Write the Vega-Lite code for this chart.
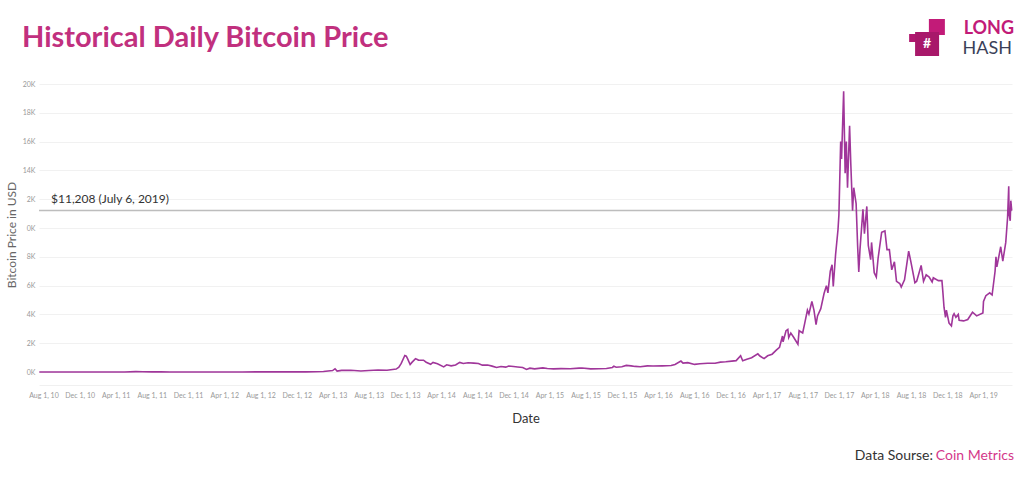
{
  "$schema": "https://vega.github.io/schema/vega-lite/v6.json",
  "autosize": "none",
  "width": 973,
  "height": 301,
  "padding": {"left": 39, "top": 84, "right": 12, "bottom": 102},
  "background": "white",
  "config": {"view": {"stroke": null}, "font": "Lato"},
  "datasets": {
    "btc": [
      {"d": "2010-07-18", "p": 0.09}, {"d": "2010-10-01", "p": 0.06}, {"d": "2010-11-06", "p": 0.39},
      {"d": "2011-01-01", "p": 0.3}, {"d": "2011-02-10", "p": 1.0}, {"d": "2011-04-01", "p": 0.78},
      {"d": "2011-05-01", "p": 3.5}, {"d": "2011-06-08", "p": 29.6}, {"d": "2011-07-01", "p": 16},
      {"d": "2011-08-01", "p": 13}, {"d": "2011-09-01", "p": 8}, {"d": "2011-10-01", "p": 5},
      {"d": "2011-11-18", "p": 2.1}, {"d": "2012-01-01", "p": 5.3}, {"d": "2012-03-01", "p": 4.9},
      {"d": "2012-06-01", "p": 5.3}, {"d": "2012-08-16", "p": 13.5}, {"d": "2012-10-01", "p": 12.4},
      {"d": "2012-12-01", "p": 12.5}, {"d": "2013-01-01", "p": 13.4}, {"d": "2013-02-01", "p": 20},
      {"d": "2013-03-01", "p": 34}, {"d": "2013-04-01", "p": 104}, {"d": "2013-04-09", "p": 230},
      {"d": "2013-04-16", "p": 68}, {"d": "2013-05-01", "p": 117}, {"d": "2013-06-01", "p": 129},
      {"d": "2013-07-05", "p": 68}, {"d": "2013-08-01", "p": 104}, {"d": "2013-09-01", "p": 140},
      {"d": "2013-10-01", "p": 125}, {"d": "2013-10-20", "p": 175}, {"d": "2013-11-01", "p": 205},
      {"d": "2013-11-10", "p": 330}, {"d": "2013-11-18", "p": 600}, {"d": "2013-11-30", "p": 1150},
      {"d": "2013-12-05", "p": 1100}, {"d": "2013-12-10", "p": 900}, {"d": "2013-12-18", "p": 520},
      {"d": "2013-12-24", "p": 670}, {"d": "2014-01-05", "p": 930}, {"d": "2014-01-15", "p": 830},
      {"d": "2014-02-01", "p": 820}, {"d": "2014-02-10", "p": 680}, {"d": "2014-02-25", "p": 540},
      {"d": "2014-03-05", "p": 670}, {"d": "2014-03-20", "p": 580}, {"d": "2014-04-10", "p": 360},
      {"d": "2014-04-20", "p": 500}, {"d": "2014-05-05", "p": 430}, {"d": "2014-05-20", "p": 490},
      {"d": "2014-06-03", "p": 670}, {"d": "2014-06-15", "p": 590}, {"d": "2014-07-01", "p": 640},
      {"d": "2014-07-20", "p": 620}, {"d": "2014-08-05", "p": 590}, {"d": "2014-08-18", "p": 480},
      {"d": "2014-09-05", "p": 490}, {"d": "2014-09-20", "p": 410}, {"d": "2014-10-05", "p": 320},
      {"d": "2014-10-20", "p": 385}, {"d": "2014-11-05", "p": 340}, {"d": "2014-11-15", "p": 420},
      {"d": "2014-12-01", "p": 380}, {"d": "2014-12-15", "p": 350}, {"d": "2015-01-01", "p": 315},
      {"d": "2015-01-14", "p": 178}, {"d": "2015-01-25", "p": 270}, {"d": "2015-02-10", "p": 220},
      {"d": "2015-03-10", "p": 290}, {"d": "2015-03-25", "p": 250}, {"d": "2015-04-15", "p": 220},
      {"d": "2015-05-10", "p": 240}, {"d": "2015-06-10", "p": 230}, {"d": "2015-07-10", "p": 270},
      {"d": "2015-07-20", "p": 280}, {"d": "2015-08-18", "p": 220}, {"d": "2015-09-15", "p": 230},
      {"d": "2015-10-10", "p": 245}, {"d": "2015-10-30", "p": 320}, {"d": "2015-11-04", "p": 400},
      {"d": "2015-11-12", "p": 330}, {"d": "2015-12-01", "p": 370}, {"d": "2015-12-16", "p": 460},
      {"d": "2016-01-01", "p": 430}, {"d": "2016-01-15", "p": 390}, {"d": "2016-02-01", "p": 370},
      {"d": "2016-02-25", "p": 425}, {"d": "2016-03-15", "p": 415}, {"d": "2016-04-15", "p": 430},
      {"d": "2016-05-15", "p": 455}, {"d": "2016-05-28", "p": 530}, {"d": "2016-06-17", "p": 760},
      {"d": "2016-06-24", "p": 620}, {"d": "2016-07-10", "p": 650}, {"d": "2016-08-02", "p": 530},
      {"d": "2016-08-20", "p": 580}, {"d": "2016-09-15", "p": 610}, {"d": "2016-10-10", "p": 615},
      {"d": "2016-10-28", "p": 690}, {"d": "2016-11-15", "p": 710}, {"d": "2016-12-05", "p": 760},
      {"d": "2016-12-20", "p": 790}, {"d": "2017-01-04", "p": 1130}, {"d": "2017-01-11", "p": 780},
      {"d": "2017-01-25", "p": 890}, {"d": "2017-02-10", "p": 990}, {"d": "2017-03-03", "p": 1260},
      {"d": "2017-03-10", "p": 1110}, {"d": "2017-03-24", "p": 930}, {"d": "2017-04-05", "p": 1130},
      {"d": "2017-04-20", "p": 1240}, {"d": "2017-05-05", "p": 1540}, {"d": "2017-05-15", "p": 1720},
      {"d": "2017-05-25", "p": 2500}, {"d": "2017-05-27", "p": 2100}, {"d": "2017-06-06", "p": 2870},
      {"d": "2017-06-12", "p": 2960}, {"d": "2017-06-15", "p": 2400}, {"d": "2017-06-22", "p": 2710},
      {"d": "2017-07-01", "p": 2430}, {"d": "2017-07-16", "p": 1930}, {"d": "2017-07-20", "p": 2870},
      {"d": "2017-08-01", "p": 2720}, {"d": "2017-08-08", "p": 3400}, {"d": "2017-08-17", "p": 4300},
      {"d": "2017-08-22", "p": 4030}, {"d": "2017-09-01", "p": 4900}, {"d": "2017-09-08", "p": 4300},
      {"d": "2017-09-15", "p": 3300}, {"d": "2017-09-20", "p": 3900}, {"d": "2017-10-01", "p": 4400},
      {"d": "2017-10-12", "p": 5450}, {"d": "2017-10-20", "p": 6000}, {"d": "2017-10-25", "p": 5500},
      {"d": "2017-11-02", "p": 7000}, {"d": "2017-11-08", "p": 7450}, {"d": "2017-11-12", "p": 5950},
      {"d": "2017-11-20", "p": 8200}, {"d": "2017-11-28", "p": 9900}, {"d": "2017-12-01", "p": 10900},
      {"d": "2017-12-07", "p": 16000}, {"d": "2017-12-10", "p": 14800}, {"d": "2017-12-17", "p": 19500},
      {"d": "2017-12-22", "p": 13800}, {"d": "2017-12-26", "p": 16000}, {"d": "2017-12-30", "p": 12800},
      {"d": "2018-01-06", "p": 17100}, {"d": "2018-01-10", "p": 14500}, {"d": "2018-01-16", "p": 11200},
      {"d": "2018-01-20", "p": 12800}, {"d": "2018-01-28", "p": 11700}, {"d": "2018-02-02", "p": 8800},
      {"d": "2018-02-06", "p": 6950}, {"d": "2018-02-10", "p": 8500}, {"d": "2018-02-20", "p": 11300},
      {"d": "2018-02-25", "p": 9600}, {"d": "2018-03-05", "p": 11500}, {"d": "2018-03-10", "p": 8800},
      {"d": "2018-03-18", "p": 7800}, {"d": "2018-03-21", "p": 9000}, {"d": "2018-03-30", "p": 6900},
      {"d": "2018-04-06", "p": 6600}, {"d": "2018-04-12", "p": 7900}, {"d": "2018-04-24", "p": 9700},
      {"d": "2018-05-05", "p": 9800}, {"d": "2018-05-12", "p": 8500}, {"d": "2018-05-20", "p": 8500},
      {"d": "2018-05-28", "p": 7100}, {"d": "2018-06-06", "p": 7650}, {"d": "2018-06-13", "p": 6300},
      {"d": "2018-06-24", "p": 6150}, {"d": "2018-06-29", "p": 5900}, {"d": "2018-07-10", "p": 6400},
      {"d": "2018-07-24", "p": 8400}, {"d": "2018-08-01", "p": 7600}, {"d": "2018-08-14", "p": 6200},
      {"d": "2018-08-20", "p": 6300}, {"d": "2018-09-04", "p": 7400}, {"d": "2018-09-12", "p": 6300},
      {"d": "2018-09-21", "p": 6750}, {"d": "2018-10-01", "p": 6600}, {"d": "2018-10-11", "p": 6250},
      {"d": "2018-10-15", "p": 6550}, {"d": "2018-11-01", "p": 6350}, {"d": "2018-11-13", "p": 6350},
      {"d": "2018-11-16", "p": 5600}, {"d": "2018-11-20", "p": 4500}, {"d": "2018-11-25", "p": 3800},
      {"d": "2018-11-28", "p": 4300}, {"d": "2018-12-07", "p": 3400}, {"d": "2018-12-15", "p": 3200},
      {"d": "2018-12-20", "p": 3900}, {"d": "2018-12-24", "p": 4050}, {"d": "2018-12-30", "p": 3800},
      {"d": "2019-01-07", "p": 4000}, {"d": "2019-01-10", "p": 3600}, {"d": "2019-01-25", "p": 3550},
      {"d": "2019-02-08", "p": 3650}, {"d": "2019-02-24", "p": 4150}, {"d": "2019-03-10", "p": 3900},
      {"d": "2019-03-31", "p": 4100}, {"d": "2019-04-02", "p": 4900}, {"d": "2019-04-10", "p": 5300},
      {"d": "2019-04-23", "p": 5500}, {"d": "2019-05-01", "p": 5350}, {"d": "2019-05-11", "p": 7000},
      {"d": "2019-05-14", "p": 8000}, {"d": "2019-05-17", "p": 7300}, {"d": "2019-05-30", "p": 8700},
      {"d": "2019-06-06", "p": 7700}, {"d": "2019-06-16", "p": 9000}, {"d": "2019-06-22", "p": 10700},
      {"d": "2019-06-26", "p": 12900}, {"d": "2019-06-27", "p": 11000}, {"d": "2019-07-01", "p": 10500},
      {"d": "2019-07-03", "p": 11900}, {"d": "2019-07-06", "p": 11208}
    ]
  },
  "layer": [
    {
      "data": {"values": [{}]},
      "mark": {"type": "rule", "color": "#bdbdbd", "strokeWidth": 1.5},
      "encoding": {"y": {"datum": 11208, "type": "quantitative"}}
    },
    {
      "data": {"name": "btc"},
      "mark": {"type": "line", "color": "#a0369a", "strokeWidth": 1.6, "clip": false},
      "encoding": {
        "x": {
          "field": "d",
          "type": "temporal",
          "scale": {"domain": [{"year": 2010, "month": 7, "date": 17}, {"year": 2019, "month": 7, "date": 7}]},
          "axis": {
            "title": "Date",
            "grid": false,
            "ticks": false,
            "domain": true,
            "domainColor": "#f0f0f0",
            "labelFontSize": 7,
            "labelColor": "#999999",
            "labelPadding": 6,
            "labelOverlap": false,
            "labelFlush": false,
            "tickCount": 40,
            "format": "%b %-d, %y",
            "values": [
              {"year": 2010, "month": 8, "date": 1}, {"year": 2010, "month": 12, "date": 1},
              {"year": 2011, "month": 4, "date": 1}, {"year": 2011, "month": 8, "date": 1}, {"year": 2011, "month": 12, "date": 1},
              {"year": 2012, "month": 4, "date": 1}, {"year": 2012, "month": 8, "date": 1}, {"year": 2012, "month": 12, "date": 1},
              {"year": 2013, "month": 4, "date": 1}, {"year": 2013, "month": 8, "date": 1}, {"year": 2013, "month": 12, "date": 1},
              {"year": 2014, "month": 4, "date": 1}, {"year": 2014, "month": 8, "date": 1}, {"year": 2014, "month": 12, "date": 1},
              {"year": 2015, "month": 4, "date": 1}, {"year": 2015, "month": 8, "date": 1}, {"year": 2015, "month": 12, "date": 1},
              {"year": 2016, "month": 4, "date": 1}, {"year": 2016, "month": 8, "date": 1}, {"year": 2016, "month": 12, "date": 1},
              {"year": 2017, "month": 4, "date": 1}, {"year": 2017, "month": 8, "date": 1}, {"year": 2017, "month": 12, "date": 1},
              {"year": 2018, "month": 4, "date": 1}, {"year": 2018, "month": 8, "date": 1}, {"year": 2018, "month": 12, "date": 1},
              {"year": 2019, "month": 4, "date": 1}
            ],
            "titleFontSize": 13,
            "titleFontWeight": "normal",
            "titleColor": "#333333",
            "titlePadding": 14
          }
        },
        "y": {
          "field": "p",
          "type": "quantitative",
          "scale": {"domain": [-900, 20000], "nice": false, "zero": false},
          "axis": {
            "title": "Bitcoin Price in USD",
            "values": [0, 2000, 4000, 6000, 8000, 10000, 12000, 14000, 16000, 18000, 20000],
            "tickCount": 20,
            "labelExpr": "datum.value == 10000 ? '0K' : datum.value == 12000 ? '2K' : (datum.value / 1000) + 'K'",
            "labelOverlap": false,
            "grid": true,
            "gridColor": "#f1f1f1",
            "ticks": false,
            "domain": false,
            "labelFontSize": 7,
            "labelColor": "#999999",
            "labelPadding": 4,
            "titleFontSize": 12,
            "titleFontWeight": "normal",
            "titleColor": "#666666",
            "titlePadding": 4
          }
        }
      }
    },
    {
      "data": {"values": [{}]},
      "mark": {"type": "text", "align": "left", "baseline": "alphabetic", "fontSize": 29, "fontWeight": "bold", "color": "#c1307e", "dx": -17, "dy": -37},
      "encoding": {
        "x": {"datum": {"year": 2010, "month": 7, "date": 17}, "type": "temporal"},
        "y": {"datum": 20000, "type": "quantitative"},
        "text": {"value": "Historical Daily Bitcoin Price"}
      }
    },
    {
      "data": {"values": [{}]},
      "mark": {"type": "text", "align": "left", "baseline": "alphabetic", "fontSize": 12, "color": "#333333", "dx": 12, "dy": -8},
      "encoding": {
        "x": {"datum": {"year": 2010, "month": 7, "date": 17}, "type": "temporal"},
        "y": {"datum": 11208, "type": "quantitative"},
        "text": {"value": "$11,208 (July 6, 2019)"}
      }
    },
    {
      "data": {"values": [{}]},
      "mark": {"type": "text", "align": "right", "baseline": "middle", "fontSize": 18, "fontWeight": "bold", "color": "#c21b78", "dx": 2, "dy": -55},
      "encoding": {
        "x": {"datum": {"year": 2019, "month": 7, "date": 7}, "type": "temporal"},
        "y": {"datum": 20000, "type": "quantitative"},
        "text": {"value": "LONG"}
      }
    },
    {
      "data": {"values": [{}]},
      "mark": {"type": "text", "align": "right", "baseline": "middle", "fontSize": 18, "fontWeight": "normal", "color": "#3b3f58", "dx": 0, "dy": -35},
      "encoding": {
        "x": {"datum": {"year": 2019, "month": 7, "date": 7}, "type": "temporal"},
        "y": {"datum": 20000, "type": "quantitative"},
        "text": {"value": "HASH"}
      }
    },
    {
      "data": {"values": [{}]},
      "mark": {"type": "point", "shape": "square", "filled": true, "size": 64, "color": "#b0186f", "opacity": 1},
      "encoding": {
        "x": {"datum": {"year": 2018, "month": 8, "date": 8}, "type": "temporal"},
        "y": {"datum": 23194, "type": "quantitative"}
      }
    },
    {
      "data": {"values": [{}]},
      "mark": {"type": "point", "shape": "square", "filled": true, "size": 256, "color": "#c21b78", "opacity": 1},
      "encoding": {
        "x": {"datum": {"year": 2018, "month": 10, "date": 27}, "type": "temporal"},
        "y": {"datum": 23958, "type": "quantitative"}
      }
    },
    {
      "data": {"values": [{}]},
      "mark": {"type": "point", "shape": "square", "filled": true, "size": 576, "color": "#a8186a", "opacity": 1},
      "encoding": {
        "x": {"datum": {"year": 2018, "month": 9, "date": 24}, "type": "temporal"},
        "y": {"datum": 22777, "type": "quantitative"}
      }
    },
    {
      "data": {"values": [{}]},
      "mark": {"type": "text", "align": "center", "baseline": "middle", "fontSize": 14, "fontWeight": "bold", "color": "white"},
      "encoding": {
        "x": {"datum": {"year": 2018, "month": 9, "date": 24}, "type": "temporal"},
        "y": {"datum": 22777, "type": "quantitative"},
        "text": {"value": "#"}
      }
    },
    {
      "data": {"values": [{}]},
      "mark": {"type": "text", "align": "right", "baseline": "middle", "fontSize": 14, "color": "#d4388a", "dx": 2, "dy": 71},
      "encoding": {
        "x": {"datum": {"year": 2019, "month": 7, "date": 7}, "type": "temporal"},
        "y": {"datum": -900, "type": "quantitative"},
        "text": {"value": "Coin Metrics"}
      }
    },
    {
      "data": {"values": [{}]},
      "mark": {"type": "text", "align": "right", "baseline": "middle", "fontSize": 14, "color": "#333333", "dx": -79, "dy": 71},
      "encoding": {
        "x": {"datum": {"year": 2019, "month": 7, "date": 7}, "type": "temporal"},
        "y": {"datum": -900, "type": "quantitative"},
        "text": {"value": "Data Sourse:"}
      }
    }
  ]
}
